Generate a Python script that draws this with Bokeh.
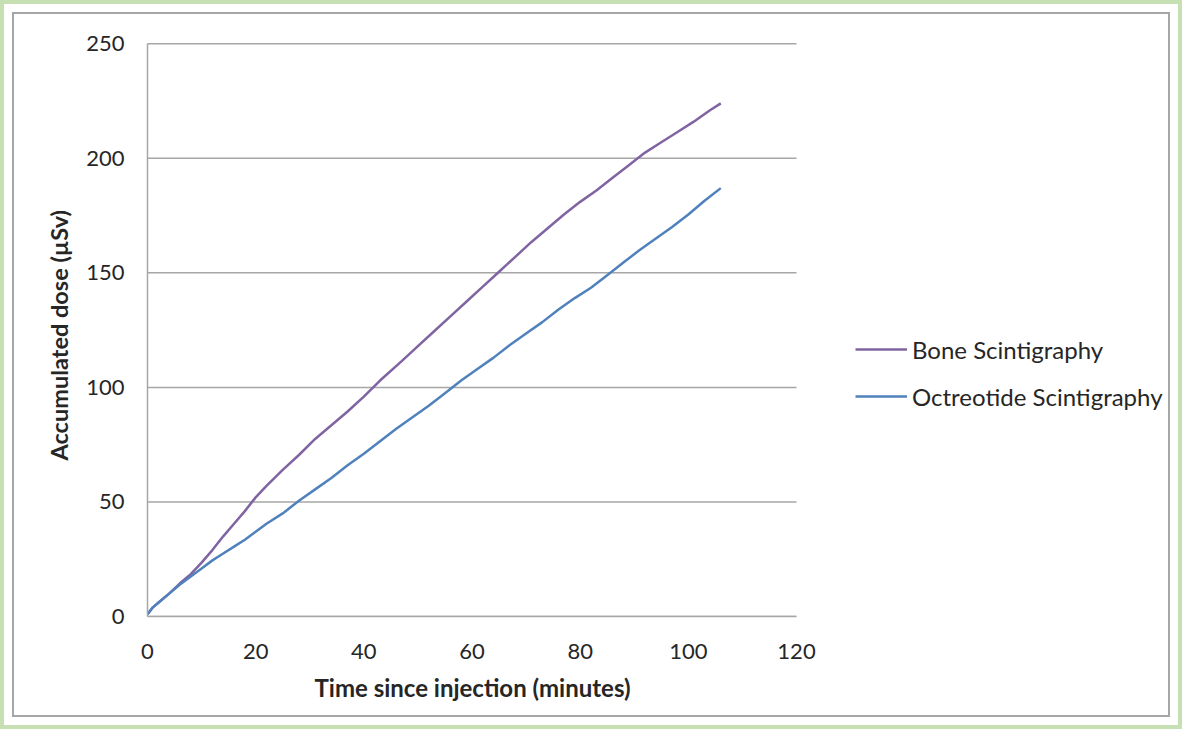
from bokeh.plotting import figure
from bokeh.models import Legend, LegendItem, Range1d, FixedTicker, Title
from bokeh.embed import file_html
from bokeh.resources import INLINE

# ---- data ----
bone_t = [0, 1, 2, 4, 6, 8, 10, 12, 14, 16, 18, 20, 22, 25, 28, 31, 34, 37,
          40, 43, 47, 50, 53, 56, 59, 62, 65, 68, 71, 74, 77, 80, 83, 86, 89,
          92, 95, 98, 101, 104, 106]
bone_v = [1, 4, 6, 10, 14.5, 18.5, 23.5, 29, 35, 40.5, 46, 52, 57, 64, 70.5,
          77.5, 83.5, 89.5, 96, 103, 111.5, 118, 124.5, 131, 137.5, 144, 150.5,
          157, 163.5, 169.5, 175.5, 181, 186, 191.5, 197, 202.5, 207, 211.5,
          216, 221, 224]
octr_t = [0, 1, 2, 4, 6, 8, 10, 12, 14, 16, 18, 20, 22, 25, 28, 31, 34, 37,
          40, 43, 46, 49, 52, 55, 58, 61, 64, 67, 70, 73, 76, 79, 82, 85, 88,
          91, 94, 97, 100, 103, 106]
octr_v = [1, 4, 6, 10, 14, 17.5, 21, 24.5, 27.5, 30.5, 33.5, 37, 40.5, 45,
          50.5, 55.5, 60.5, 66, 71, 76.5, 82, 87, 92, 97.5, 103, 108, 113,
          118.5, 123.5, 128.5, 134, 139, 143.5, 149, 154.5, 160, 165, 170,
          175.5, 181.5, 187]
x_ticks = [0, 20, 40, 60, 80, 100, 120]
y_ticks = [0, 50, 100, 150, 200, 250]
series_names = ["Bone Scintigraphy", "Octreotide Scintigraphy"]
x_title = "Time since injection (minutes)"
y_title = "Accumulated dose (µSv)"

FONT = "Lato"
GRID = "#a6a6a6"
TXT = "#262626"

W, H = 1154, 701
LEFT, TOP, BOTTOM = 133, 27, 99
AXIS_PX = 649                      # pixels spanned by x = 0..120
FRAME_W = W - LEFT
x_end = x_ticks[-1] * FRAME_W / AXIS_PX   # frame runs on under the legend

p = figure(width=W, height=H, output_backend="svg", toolbar_location=None,
           x_range=Range1d(0, x_end), y_range=Range1d(0, 251),
           min_border_left=LEFT, min_border_right=0, min_border_top=TOP,
           min_border_bottom=BOTTOM)
p.outline_line_color = None
p.background_fill_color = "white"
p.border_fill_color = "white"
p.styles = {"position": "relative", "left": "14px", "top": "14px",
            "box-shadow": "0 0 0 2px #a6a6a6, 0 0 0 10px #ffffff, "
                          "0 0 0 14px #c6e0b4"}

for ax in (p.xaxis[0], p.yaxis[0]):
    ax.axis_line_color = GRID
    ax.axis_line_width = 1.5
    ax.major_tick_line_color = None
    ax.minor_tick_line_color = None
    ax.major_tick_out = 0
    ax.major_tick_in = 0
    ax.major_label_text_font = FONT
    ax.major_label_text_font_size = "22px"
    ax.major_label_text_color = TXT

p.xaxis[0].ticker = FixedTicker(ticks=x_ticks)
p.yaxis[0].ticker = FixedTicker(ticks=y_ticks)
p.xaxis[0].bounds = (x_ticks[0], x_ticks[-1])
p.yaxis[0].bounds = (y_ticks[0], y_ticks[-1])
p.xaxis[0].major_label_standoff = 27
p.yaxis[0].major_label_standoff = 23

p.xgrid.grid_line_color = None
p.ygrid.grid_line_color = None
# horizontal gridlines limited to the x-axis extent (0..120)
p.segment(x0=[x_ticks[0]] * len(y_ticks), x1=[x_ticks[-1]] * len(y_ticks),
          y0=y_ticks, y1=y_ticks, line_color=GRID, line_width=1.5)

r1 = p.line(bone_t, bone_v, line_color="#8064a2", line_width=2.5)
r2 = p.line(octr_t, octr_v, line_color="#4f81bd", line_width=2.5)

legend = Legend(items=[LegendItem(label=series_names[0], renderers=[r1]),
                       LegendItem(label=series_names[1], renderers=[r2])],
                location=(708, 205))
legend.label_text_font = FONT
legend.label_text_font_size = "24px"
legend.label_text_color = TXT
legend.glyph_width = 52
legend.glyph_height = 30
legend.label_height = 30
legend.label_standoff = 5
legend.spacing = 17
legend.padding = 0
legend.margin = 0
legend.border_line_color = None
legend.background_fill_alpha = 0
p.add_layout(legend, "center")

# x title placed under the 0..120 part of the axis
xtitle = Title(text=x_title, align="left", offset=167, standoff=19,
               text_font=FONT, text_font_style="bold", text_font_size="24px",
               text_color=TXT)
p.add_layout(xtitle, "below")

ytitle = Title(text=y_title, align="left", offset=156, standoff=21,
               text_font=FONT, text_font_style="bold", text_font_size="23.5px",
               text_color=TXT)
p.add_layout(ytitle, "left")

open("out.html", "w").write(file_html(p, INLINE))
